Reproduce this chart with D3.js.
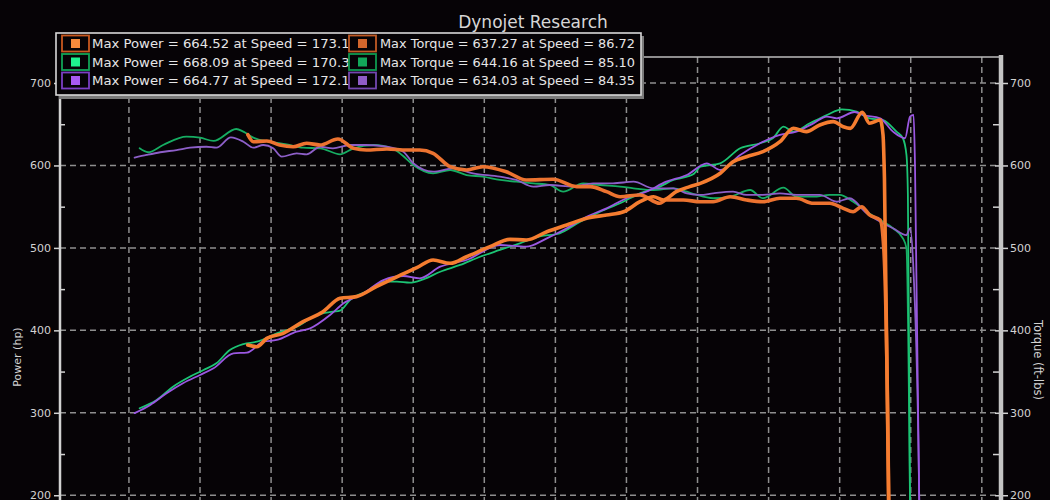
<!DOCTYPE html>
<html><head><meta charset="utf-8">
<script src="https://cdn.jsdelivr.net/npm/d3@7"></script>
<style>
html,body{margin:0;padding:0;background:#060306;}
svg{display:block;}
text{font-family:"DejaVu Sans",Verdana,sans-serif;}
</style></head>
<body>
<svg id="chart" width="1050" height="500"></svg>
<script>
// ---------- DATA ----------
const titleText = "Dynojet Research";
const leftAxisTitle = "Power (hp)";
const rightAxisTitle = "Torque (ft-lbs)";
const majorTicks = [200, 300, 400, 500, 600, 700];
const minorTicks = [250, 350, 450, 550, 650];
const speedGrid = [70, 80, 90, 100, 110, 120, 130, 140, 150, 160, 170, 180, 190];

const legendPower = [
  "Max Power = 664.52 at Speed = 173.18",
  "Max Power = 668.09 at Speed = 170.30",
  "Max Power = 664.77 at Speed = 172.12"
];
const legendTorque = [
  "Max Torque = 637.27 at Speed = 86.72",
  "Max Torque = 644.16 at Speed = 85.10",
  "Max Torque = 634.03 at Speed = 84.35"
];

// Run 1 (orange)
const orangePowerSpeed = [86.72,88.0,89.4,91.7,94.5,97.3,99.7,102.0,104.8,107.7,110.5,112.8,115.2,117.5,120.8,123.6,125.9,128.8,131.6,134.4,137.2,139.6,141.9,143.8,145.2,147.0,148.9,150.4,153.2,155.0,156.9,159.2,161.6,163.5,165.3,167.2,169.1,170.5,171.5,173.18,174.2,175.7,176.1,176.3,176.9,177.0];
const orangePower      = [382.2,380.2,390.3,396.4,410.5,422.6,438.9,440.9,453.0,465.0,476.0,485.3,481.3,489.3,501.5,510.4,509.6,519.6,527.8,535.9,539.9,543.9,556.0,562.1,558.1,568.2,574.3,578.3,590.5,604.6,610.6,616.7,628.8,645.1,641.0,649.1,653.1,647.0,645.0,664.5,651.1,655.1,637.0,584.8,190.0,100.0];
const orangeTorqueSpeed = [86.72,87.5,89.4,91.2,93.1,95.0,96.9,99.4,101.6,103.4,106.3,109.1,110.9,112.8,115.2,117.5,119.8,123.1,125.9,129.7,133.0,134.9,137.2,139.1,141.9,144.7,145.6,148.0,150.4,152.2,154.6,156.9,159.2,161.6,163.9,166.3,168.6,170.5,171.9,173.1,174.2,175.7,176.2,176.9,177.0];
const orangeTorque      = [637.3,628.8,629.7,624.8,622.7,626.9,624.8,632.1,620.8,618.7,620.0,618.7,618.7,614.7,598.5,594.5,598.5,592.4,582.4,583.2,574.3,574.3,568.2,562.1,564.2,554.1,558.1,558.1,556.0,556.0,562.1,558.1,556.0,560.2,560.2,554.1,554.1,548.0,543.9,550.0,540.0,533.8,500.0,190.0,100.0];

// Run 2 (green)
const greenPowerSpeed = [71.5,73.9,76.2,78.6,80.5,82.3,84.2,86.1,88.0,90.8,93.6,96.4,98.7,99.7,101.1,103.9,105.8,107.7,109.5,111.4,113.8,116.6,119.4,122.2,125.0,127.8,130.6,133.5,136.3,139.1,141.9,144.7,146.6,148.5,149.5,150.4,153.2,156.0,158.8,160.6,162.1,163.5,165.8,168.2,170.3,172.4,174.2,176.1,178.0,178.9,179.4,179.6,179.9,180.0];
const greenPower      = [305.5,315.5,331.7,343.9,351.9,360.0,376.2,383.4,386.2,396.4,404.4,418.6,422.6,424.0,436.8,448.9,459.0,459.0,457.8,461.9,471.1,479.3,489.3,497.5,505.6,513.9,517.7,531.8,543.9,554.1,566.2,574.3,582.4,586.4,590.0,598.5,602.6,620.8,626.9,633.0,647.0,641.0,651.1,661.2,668.1,665.2,657.2,655.1,641.0,633.0,612.7,564.0,190.0,100.0];
const greenTorqueSpeed = [71.5,72.7,74.8,78.1,80.0,81.9,85.1,86.1,87.5,89.8,92.2,94.5,96.9,99.7,101.6,104.4,107.2,108.5,110.0,112.8,115.2,117.5,119.8,122.2,124.5,126.9,129.2,131.1,133.9,136.3,139.1,141.0,143.8,146.6,148.5,149.9,152.2,154.6,157.4,159.2,162.1,163.9,166.3,168.6,170.0,171.9,173.8,175.7,177.5,178.9,179.4,179.9,180.0];
const greenTorque      = [620.8,616.0,624.8,634.9,633.7,629.7,644.2,641.0,633.7,628.8,625.6,621.5,620.8,613.5,620.8,624.8,620.0,612.0,600.5,590.5,594.5,588.4,586.4,582.4,580.3,578.3,576.3,568.2,578.3,576.3,574.3,572.3,570.2,572.3,568.2,564.2,560.2,562.1,570.2,560.2,573.0,562.1,562.1,564.2,564.2,556.0,543.9,533.8,523.8,511.6,499.5,190.0,100.0];

// Run 3 (purple)
const purplePowerSpeed = [70.8,73.0,75.3,77.6,80.0,81.9,84.7,86.6,88.9,90.8,93.6,95.5,98.3,100.2,103.0,105.8,108.6,110.9,113.8,117.5,122.2,125.9,128.8,131.6,134.4,137.2,140.0,142.8,145.6,148.5,151.3,153.2,156.0,158.8,161.6,163.9,166.3,168.2,169.6,172.12,173.3,175.7,177.5,179.2,179.9,180.4,180.6,181.2,181.3];
const purplePower      = [299.6,309.5,323.6,335.8,345.9,354.0,372.2,373.0,386.2,388.3,398.4,402.4,418.6,432.8,444.9,461.0,465.9,463.1,477.2,485.3,503.5,501.5,511.6,523.8,537.8,548.0,560.2,568.2,580.3,588.4,602.6,594.5,612.7,626.9,637.0,641.0,651.1,659.2,657.2,664.8,661.2,657.2,641.0,633.0,659.2,661.2,600.0,190.0,100.0];
const purpleTorqueSpeed = [70.8,72.5,74.4,76.7,78.6,80.9,82.3,84.35,86.1,87.5,88.9,90.3,91.5,93.6,95.0,96.9,98.7,101.1,103.4,106.3,108.6,110.0,112.8,115.6,118.4,122.2,124.5,126.9,129.2,132.5,135.3,138.1,141.0,143.8,146.6,148.5,150.4,152.2,155.0,156.9,159.2,161.6,163.9,167.2,169.6,171.4,173.8,175.7,177.5,179.4,179.9,180.4,181.2,181.3];
const purpleTorque      = [609.4,612.7,616.0,618.7,621.5,622.7,621.5,634.0,628.8,621.5,624.8,620.8,610.6,614.7,613.5,622.7,620.8,624.8,624.8,622.7,616.7,602.6,592.4,596.5,590.5,586.4,582.4,574.3,576.3,574.3,578.3,578.3,580.3,572.3,572.3,566.0,564.2,566.2,568.2,564.2,564.2,566.2,564.2,564.2,556.0,560.2,542.0,531.8,523.8,515.6,523.8,470.0,190.0,100.0];

// ---------- CHART ----------
const svg = d3.select("#chart");
const W = 1050, H = 500;
const plotL = 60, plotR = 1001, plotT = 57;

svg.append("rect").attr("width", W).attr("height", H).attr("fill", "#060306");

const x = d3.scaleLinear().domain([60.3, 192.7]).range([plotL, plotR]);
const y = d3.scaleLinear().domain([100, 700]).range([577.7, 83]);

svg.append("defs").append("clipPath").attr("id", "plotclip")
  .append("rect").attr("x", plotL).attr("y", plotT).attr("width", plotR - plotL).attr("height", 600);

// grid
const grid = svg.append("g").attr("stroke", "#8e8e8e").attr("stroke-width", 1.5).attr("stroke-dasharray", "6,4");
grid.selectAll(".vg").data(speedGrid).join("line")
  .attr("x1", d => x(d)).attr("x2", d => x(d)).attr("y1", plotT).attr("y2", H);
grid.selectAll(".hg").data(majorTicks).join("line")
  .attr("x1", plotL).attr("x2", plotR).attr("y1", d => y(d)).attr("y2", d => y(d));

// lines
const line = d3.line().x(d => x(d[0])).y(d => y(d[1])).curve(d3.curveMonotoneX);
const zip = (a, b) => a.map((v, i) => [v, b[i]]);
const series = [
  {s: greenTorqueSpeed, v: greenTorque, c: "#16ad62", w: 1.8},
  {s: greenPowerSpeed, v: greenPower, c: "#1cc474", w: 1.8},
  {s: purpleTorqueSpeed, v: purpleTorque, c: "#8d5fc8", w: 1.8},
  {s: purplePowerSpeed, v: purplePower, c: "#9b58e2", w: 1.8},
  {s: orangeTorqueSpeed, v: orangeTorque, c: "#ec7330", w: 3.6},
  {s: orangePowerSpeed, v: orangePower, c: "#f57d30", w: 3.6}
];
const lg = svg.append("g").attr("clip-path", "url(#plotclip)");
series.forEach(d => {
  lg.append("path").datum(zip(d.s, d.v)).attr("d", line)
    .attr("fill", "none").attr("stroke", d.c).attr("stroke-width", d.w)
    .attr("stroke-linejoin", "round").attr("stroke-linecap", "round");
});

// left axis
const axisColor = "#d2d2d2";
const la = svg.append("g").attr("transform", `translate(${plotL},0)`)
  .call(d3.axisLeft(y).tickValues(majorTicks).tickSize(6).tickPadding(3));
la.select(".domain").remove();
la.selectAll("line").attr("stroke", axisColor).attr("stroke-width", 1.5);
la.selectAll("text").attr("fill", axisColor).attr("font-size", 11).attr("font-family", "DejaVu Sans");
const lam = svg.append("g").attr("transform", `translate(${plotL},0)`)
  .call(d3.axisLeft(y).tickValues(minorTicks).tickSize(-5).tickFormat(""));
lam.select(".domain").remove();
lam.selectAll("line").attr("stroke", axisColor).attr("stroke-width", 1.5);
svg.append("line").attr("x1", plotL).attr("x2", plotL).attr("y1", plotT).attr("y2", H)
  .attr("stroke", axisColor).attr("stroke-width", 2.5);

// right axis
const ra = svg.append("g").attr("transform", `translate(${plotR},0)`)
  .call(d3.axisRight(y).tickValues(majorTicks).tickSize(7).tickPadding(2));
ra.select(".domain").remove();
ra.selectAll("line").attr("stroke", axisColor).attr("stroke-width", 1.5).attr("x1", -6);
ra.selectAll("text").attr("fill", axisColor).attr("font-size", 11).attr("font-family", "DejaVu Sans");
const ram = svg.append("g").attr("transform", `translate(${plotR},0)`)
  .call(d3.axisRight(y).tickValues(minorTicks).tickSize(-8).tickFormat(""));
ram.select(".domain").remove();
ram.selectAll("line").attr("stroke", axisColor).attr("stroke-width", 1.5);
svg.append("line").attr("x1", plotR).attr("x2", plotR).attr("y1", plotT - 2).attr("y2", H)
  .attr("stroke", "#c4c4c4").attr("stroke-width", 4.5);
svg.append("line").attr("x1", plotL).attr("x2", plotR).attr("y1", plotT).attr("y2", plotT)
  .attr("stroke", "#bdbdbd").attr("stroke-width", 1.5);

// axis titles
svg.append("text").attr("transform", "translate(21,357) rotate(-90)")
  .attr("text-anchor", "middle").attr("fill", axisColor).attr("font-size", 11).text(leftAxisTitle);
svg.append("text").attr("transform", "translate(1034,360) rotate(90)")
  .attr("text-anchor", "middle").attr("fill", axisColor).attr("font-size", 11.5).text(rightAxisTitle);

// title
svg.append("text").attr("x", 533).attr("y", 28).attr("text-anchor", "middle")
  .attr("fill", "#d6d6d6").attr("font-size", 17).text(titleText);

// legend
const leg = svg.append("g");
leg.append("rect").attr("x", 59).attr("y", 36).attr("width", 585).attr("height", 63).attr("fill", "#7a7a7a");
leg.append("rect").attr("x", 56).attr("y", 33).attr("width", 585).attr("height", 62)
  .attr("fill", "#060306").attr("stroke", "#d8d8d8").attr("stroke-width", 1.6);
const rowsY = [43.5, 62, 80.5];
const powerSw = [{b: "#c9581f", f: "#f58a3c"}, {b: "#12a457", f: "#1ff28e"}, {b: "#7b3fc4", f: "#a75af2"}];
const torqueSw = [{b: "#c05a25", f: "#d2662c"}, {b: "#0f9a50", f: "#12a85a"}, {b: "#7447b0", f: "#8f5cc6"}];
const legText = "#e6e6e6";
leg.selectAll(".lp").data(legendPower).join("text")
  .attr("x", 92).attr("y", (d, i) => rowsY[i]).attr("dy", "0.36em")
  .attr("fill", legText).attr("font-size", 13)
  .attr("textLength", 266).attr("lengthAdjust", "spacingAndGlyphs").text(d => d);
leg.selectAll(".lt").data(legendTorque).join("text")
  .attr("x", 380).attr("y", (d, i) => rowsY[i]).attr("dy", "0.36em")
  .attr("fill", legText).attr("font-size", 13)
  .attr("textLength", 255).attr("lengthAdjust", "spacingAndGlyphs").text(d => d);
function swatch(cx, cy, c) {
  leg.append("rect").attr("x", cx).attr("y", cy - 8).attr("width", 27).attr("height", 16)
    .attr("fill", "#060306").attr("stroke", c.b).attr("stroke-width", 1.8);
  leg.append("rect").attr("x", cx + 9).attr("y", cy - 4.5).attr("width", 9).attr("height", 9).attr("fill", c.f);
}
rowsY.forEach((ry, i) => { swatch(62, ry, powerSw[i]); swatch(349, ry, torqueSw[i]); });
</script>
</body></html>
